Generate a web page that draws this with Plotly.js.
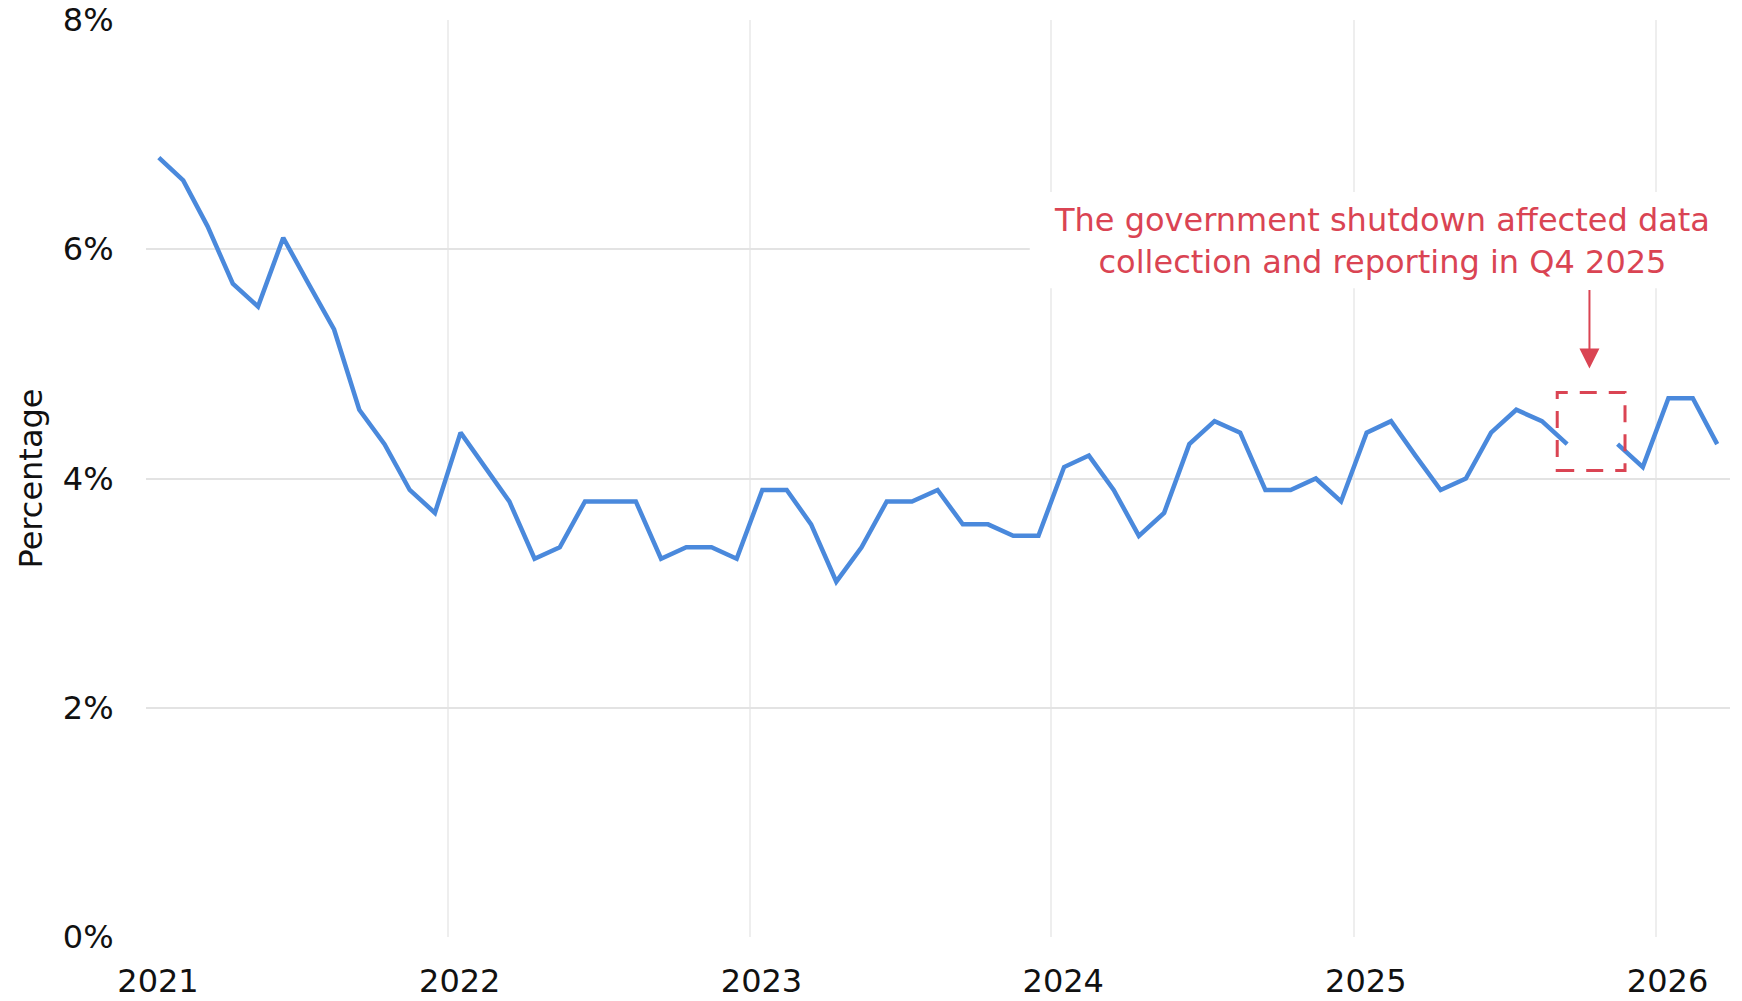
<!DOCTYPE html>
<html>
<head>
<meta charset="utf-8">
<script src="https://cdn.plot.ly/plotly-3.0.1.min.js"></script>
<style>
  html, body { margin: 0; padding: 0; background: #ffffff; }
  #chart { width: 1742px; height: 1001px; }
</style>
</head>
<body>
<div id="chart"></div>
<script>
// Monthly observations (placed mid-month)
const months = [
  "2021-01","2021-02","2021-03","2021-04","2021-05","2021-06","2021-07","2021-08","2021-09","2021-10","2021-11","2021-12",
  "2022-01","2022-02","2022-03","2022-04","2022-05","2022-06","2022-07","2022-08","2022-09","2022-10","2022-11","2022-12",
  "2023-01","2023-02","2023-03","2023-04","2023-05","2023-06","2023-07","2023-08","2023-09","2023-10","2023-11","2023-12",
  "2024-01","2024-02","2024-03","2024-04","2024-05","2024-06","2024-07","2024-08","2024-09","2024-10","2024-11","2024-12",
  "2025-01","2025-02","2025-03","2025-04","2025-05","2025-06","2025-07","2025-08","2025-09","2025-10","2025-11","2025-12",
  "2026-01","2026-02","2026-03"
];
// Percentage values; October 2025 missing (government shutdown)
const rates = [
  6.8, 6.6, 6.2, 5.7, 5.5, 6.1, 5.7, 5.3, 4.6, 4.3, 3.9, 3.7,
  4.4, 4.1, 3.8, 3.3, 3.4, 3.8, 3.8, 3.8, 3.3, 3.4, 3.4, 3.3,
  3.9, 3.9, 3.6, 3.1, 3.4, 3.8, 3.8, 3.9, 3.6, 3.6, 3.5, 3.5,
  4.1, 4.2, 3.9, 3.5, 3.7, 4.3, 4.5, 4.4, 3.9, 3.9, 4.0, 3.8,
  4.4, 4.5, 4.2, 3.9, 4.0, 4.4, 4.6, 4.5, 4.3, null, 4.3, 4.1,
  4.7, 4.7, 4.3
];
const yTickVals = [0, 2, 4, 6, 8];
const yTickText = ["0%", "2%", "4%", "6%", "8%"];
const yAxisTitle = "Percentage";
const noteText = "The government shutdown affected data<br>collection and reporting in Q4 2025";

const FONT = "Verdana, 'DejaVu Sans', sans-serif";
const BLUE = "#4a89dc";
const RED = "#da4453";

const trace = {
  type: "scatter",
  mode: "lines",
  x: months,
  y: rates,
  xperiod: "M1",
  xperiodalignment: "middle",
  connectgaps: false,
  line: { color: BLUE, width: 4.5 },
  hoverinfo: "x+y",
  showlegend: false
};

const layout = {
  width: 1742,
  height: 1001,
  paper_bgcolor: "#ffffff",
  plot_bgcolor: "#ffffff",
  margin: { l: 146, r: 12, t: 20, b: 64 },
  font: { family: FONT, size: 32, color: "#111111" },
  showlegend: false,
  xaxis: {
    type: "date",
    range: ["2021-01-01", "2026-04-01"],
    dtick: "M12",
    tick0: "2021-01-01",
    tickformat: "%Y",
    ticklabelshift: 12,
    ticks: "outside",
    ticklen: 16,
    tickcolor: "rgba(0,0,0,0)",
    showgrid: true,
    gridcolor: "#eeeeee",
    gridwidth: 2,
    zeroline: false,
    showline: false,
    tickfont: { family: FONT, size: 32, color: "#111111" }
  },
  yaxis: {
    range: [0, 8],
    tickvals: yTickVals,
    ticktext: yTickText,
    ticks: "outside",
    ticklen: 25,
    tickcolor: "rgba(0,0,0,0)",
    showgrid: true,
    gridcolor: "#e3e3e3",
    gridwidth: 2,
    zeroline: false,
    showline: false,
    tickfont: { family: FONT, size: 32, color: "#111111" },
    title: { text: yAxisTitle, font: { family: FONT, size: 32, color: "#111111" }, standoff: 10 }
  },
  shapes: [
    {
      type: "rect", xref: "x", yref: "y", layer: "between",
      x0: "2023-12-06", x1: "2026-04-10", y0: 5.66, y1: 6.50,
      fillcolor: "#ffffff", line: { width: 0 }
    },
    {
      type: "rect", xref: "x", yref: "y", layer: "above",
      x0: "2025-09-04", x1: "2025-11-25", y0: 4.07, y1: 4.75,
      fillcolor: "rgba(0,0,0,0)",
      line: { color: RED, width: 3, dash: "17px,12px" }
    }
  ],
  annotations: [
    {
      xref: "paper", yref: "paper",
      x: 0.780, y: 0.7595,
      xanchor: "center", yanchor: "middle",
      text: noteText,
      showarrow: false,
      align: "center",
      font: { family: FONT, size: 32, color: RED }
    },
    {
      xref: "x", yref: "y",
      x: "2025-10-13", y: 4.96,
      ax: 0, ay: -80,
      text: "",
      showarrow: true,
      arrowhead: 2,
      arrowsize: 2,
      arrowwidth: 2,
      arrowcolor: RED
    }
  ]
};

Plotly.newPlot("chart", [trace], layout, { displayModeBar: false, staticPlot: true });
</script>
</body>
</html>
